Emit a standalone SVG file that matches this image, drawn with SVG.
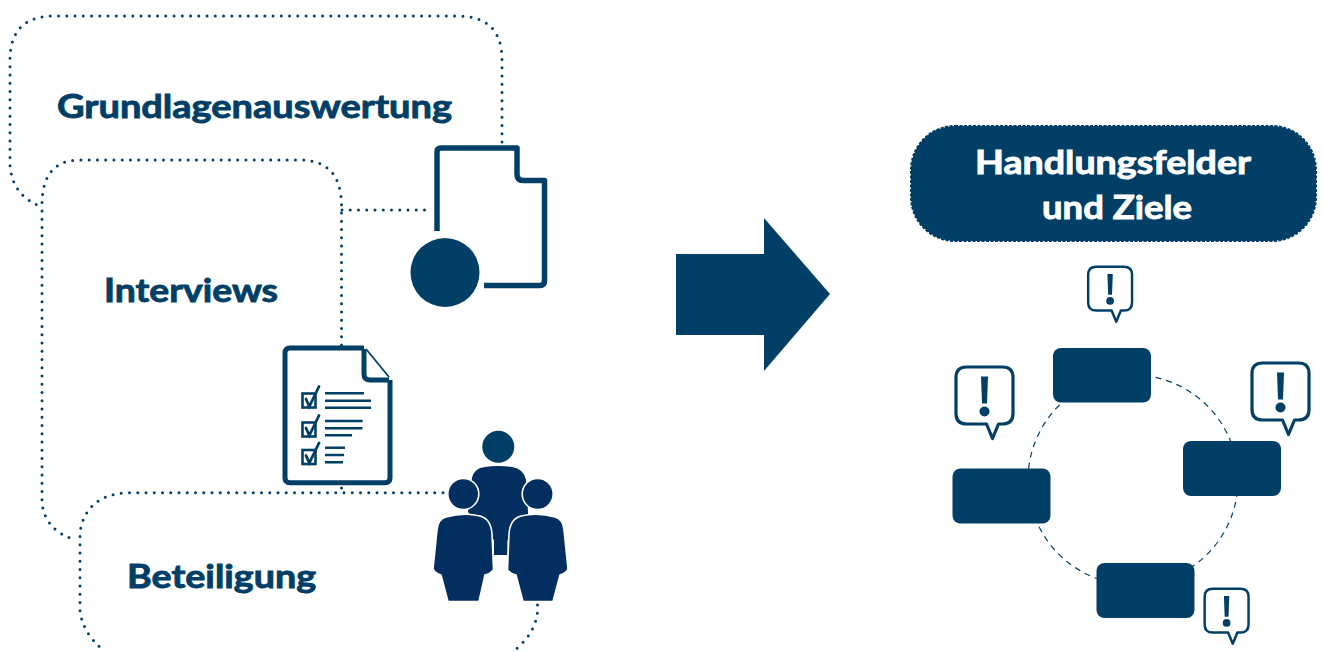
<svg xmlns="http://www.w3.org/2000/svg" width="1324" height="652" viewBox="0 0 1324 652">
<style>
.dot{fill:none;stroke:#023f67;stroke-width:3;stroke-linecap:round;stroke-dasharray:0 8.25}
.t{font-family:"Lato","Open Sans",sans-serif;font-weight:700;font-size:33px;fill:#023f67;stroke:#023f67;stroke-width:.9}
.w{fill:#fff;stroke:#fff}
.ln{fill:none;stroke:#023f67;stroke-linejoin:round}
.f{fill:#023f67}
.p{fill:#022e60;stroke:#fff;stroke-width:1.6}
.c{fill:#fff;stroke:#023f67;stroke-width:3.2;stroke-linejoin:round}
</style>
<defs>
<path id="callout" d="M12 1.5H48Q58.5 1.5 58.5 12V48Q58.5 58.5 48 58.5H44L38 73L32 58.5H12Q1.5 58.5 1.5 48V12Q1.5 1.5 12 1.5Z"/>
<g id="callbody">
<use href="#callout" class="c"/>
<path class="f" d="M26.5 11H33.5L32.5 38H27.5Z"/>
<circle class="f" cx="30" cy="46" r="5"/>
</g>
<g id="ticks">
<rect x="302.5" y="393.5" width="13" height="14" fill="none" stroke="#023f67" stroke-width="2.6"/>
<path d="M306 399L309.3 406.500L319 386.500" fill="none" stroke="#023f67" stroke-width="2.800" stroke-linecap="round"/>
</g>
</defs>

<g id="connectors">
<path class="dot" d="M502 142V60Q502 16 458 16H54Q10 16 10 60V165Q12 196 42 207"/>
<path class="dot" d="M341.500 345V206Q341.500 160 300 160H80Q42 160 42 205V504Q46 530 73 539"/>
<path class="dot" d="M341.500 488V493"/>
<path class="dot" d="M342 210H429"/>
<path class="dot" d="M443 492.700H127Q86 495 80 532V610Q82 632 103 650"/>
<path class="dot" d="M537.500 605Q539 630 515 650"/>
<circle id="ring" cx="1133" cy="480" r="105" fill="none" stroke="#023f67" stroke-width="1.200" stroke-dasharray="6 5"/>
</g>

<g id="node-grundlagen">
<text class="t" x="57" y="118" textLength="395" lengthAdjust="spacingAndGlyphs">Grundlagenauswertung</text>
<path class="ln" stroke-width="5.500" d="M437 231V152Q437 148 441 148H517V174Q517 180.500 523 180.500H544.500V281Q544.500 285.500 540 285.500H484"/>
<circle class="f" cx="445" cy="272.500" r="34.500"/>
</g>

<g id="node-interviews">
<text class="t" x="104" y="302" textLength="174" lengthAdjust="spacingAndGlyphs">Interviews</text>
<path class="ln" stroke-width="5" d="M364 348H290Q285 348 285 353V478Q285 482.700 290 482.700H385Q390 482.700 390 478V380"/>
<path class="ln" stroke-width="5" d="M364 349V374Q364 380 370 380H389"/>
<path class="ln" stroke-width="1.800" d="M366 349L389 377"/>
<use href="#ticks"/>
<use href="#ticks" y="29"/>
<use href="#ticks" y="56.500"/>
<path fill="none" stroke="#023f67" stroke-width="2.400" d="M325 393.300H364M325 400.700H371M325 407.700H371M325 421H362.700M325 428.300H362.500M325 435.300H352M325 447.700H345M325 455H344M325 462.300H343"/>
</g>

<g id="node-beteiligung">
<text class="t" x="127" y="588" textLength="189" lengthAdjust="spacingAndGlyphs">Beteiligung</text>
<circle cx="498.300" cy="446.700" r="16" fill="#023f67"/>
<path fill="#022e60" d="M472 478Q474 468 485 467Q498 465 512 467Q524 469 526 480L528 512V522L507.500 540V555H494V540L468 512Z"/>
<circle class="p" cx="463.300" cy="494" r="15.500"/>
<circle class="p" cx="537.700" cy="494" r="15.500"/>
<path class="p" d="M446 517Q464 512 480 516Q491 519 492 534L493.500 570Q490 574 485 575L479 601.500H448L441 575Q435 573 433 569L437 530Q438 519 446 517Z"/>
<path class="p" d="M555 517Q537 512 521 516Q510 519 509 534L507.500 570Q511 574 516 575L523 601.500H553L560 575Q566 573 568 569L564 530Q563 519 555 517Z"/>
</g>

<g id="arrow">
<path class="f" d="M676 254H764V218L830 294L764 371V335H676Z"/>
</g>

<g id="node-handlungsfelder">
<rect x="911" y="126" width="405" height="115" rx="44" fill="#023f67" stroke="#023f67" stroke-width="2" stroke-dasharray="3 1.500"/>
<text class="t w" x="975" y="174" textLength="276" lengthAdjust="spacingAndGlyphs">Handlungsfelder</text>
<text class="t w" x="1042" y="219" textLength="150" lengthAdjust="spacingAndGlyphs">und Ziele</text>
</g>

<g id="box-top"><rect class="f" x="1053" y="348" width="98" height="54.500" rx="8"/></g>
<g id="box-right"><rect class="f" x="1183" y="441" width="98" height="55" rx="8"/></g>
<g id="box-left"><rect class="f" x="952.500" y="468.500" width="98" height="55" rx="8"/></g>
<g id="box-bottom"><rect class="f" x="1096.500" y="563" width="98" height="55" rx="8"/></g>

<g id="callout-top"><use href="#callbody" transform="translate(1087 265.500) scale(.77)"/></g>
<g id="callout-left"><use href="#callbody" transform="translate(954.500 365.500)"/></g>
<g id="callout-right"><use href="#callbody" transform="translate(1250.500 361.500)"/></g>
<g id="callout-bottom"><use href="#callbody" transform="translate(1203.500 587.500) scale(.77)"/></g>
</svg>
